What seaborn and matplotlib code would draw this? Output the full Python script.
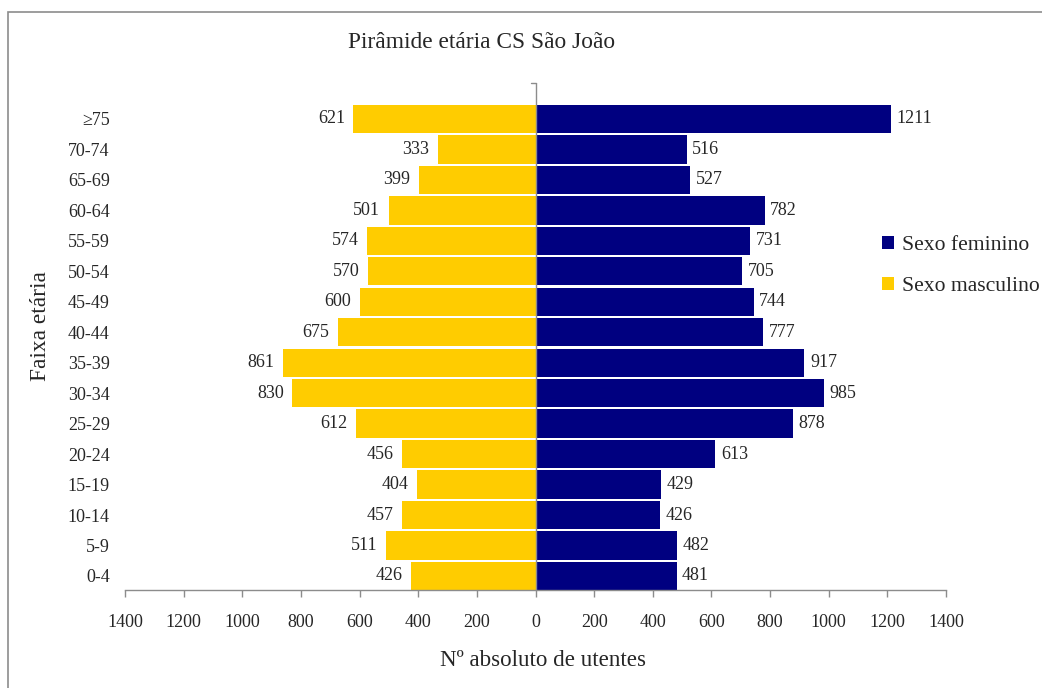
import numpy as np
import pandas as pd
import seaborn as sns
import matplotlib.pyplot as plt
from matplotlib.patches import Patch, Rectangle
from matplotlib.lines import Line2D
from matplotlib.ticker import FuncFormatter, MultipleLocator

# Age groups, oldest at the top
age_groups = ["≥75", "70-74", "65-69", "60-64", "55-59", "50-54", "45-49", "40-44",
              "35-39", "30-34", "25-29", "20-24", "15-19", "10-14", "5-9", "0-4"]
male = [621, 333, 399, 501, 574, 570, 600, 675, 861, 830, 612, 456, 404, 457, 511, 426]
female = [1211, 516, 527, 782, 731, 705, 744, 777, 917, 985, 878, 613, 429, 426, 482, 481]

title = "Pirâmide etária CS São João"
x_label = "Nº absoluto de utentes"
y_label = "Faixa etária"
female_name = "Sexo feminino"
male_name = "Sexo masculino"

sns.set_theme(style="white")
plt.rcParams["font.family"] = ["Liberation Serif", "DejaVu Serif"]

YELLOW = "#FFCC00"
NAVY = "#000080"
GRAY = "#8c8c8c"

df = pd.DataFrame({"age": age_groups, "male": -np.array(male), "female": female})

fig = plt.figure(figsize=(10.42, 6.88), dpi=100)
ax = fig.add_axes([125 / 1042, 1 - 590 / 688, (946 - 125) / 1042, (590 - 83) / 688])

sns.barplot(data=df, x="male", y="age", order=age_groups, color=YELLOW,
            width=0.93, saturation=1, ax=ax, linewidth=0)
sns.barplot(data=df, x="female", y="age", order=age_groups, color=NAVY,
            width=0.93, saturation=1, ax=ax, linewidth=0)

male_bars = ax.containers[0]
female_bars = ax.containers[1]
ax.bar_label(male_bars, labels=[str(v) for v in male], padding=6, fontsize=13)
ax.bar_label(female_bars, labels=[str(v) for v in female], padding=4, fontsize=13)

ax.set_xlim(-1400, 1400)
ax.set_ylim(len(age_groups) - 1 + 0.46, -1.18)
ax.xaxis.set_major_locator(MultipleLocator(200))
ax.xaxis.set_major_formatter(FuncFormatter(lambda v, p: f"{abs(int(round(v)))}"))

for side in ["top", "right", "left"]:
    ax.spines[side].set_visible(False)
ax.spines["bottom"].set_color(GRAY)
ax.spines["bottom"].set_linewidth(1)
ax.tick_params(axis="x", direction="out", length=5, width=1, color=GRAY,
               pad=12, labelsize=13, bottom=True)
ax.tick_params(axis="y", length=0, pad=11, labelsize=13)
for lbl in ax.get_yticklabels():
    lbl.set_horizontalalignment("right")

# vertical category axis at zero with its top tick
ax.axvline(0, color=GRAY, lw=1, zorder=3)
ax.add_line(Line2D([-14, 0], [-1.18, -1.18], color=GRAY, lw=1, clip_on=False,
                   transform=ax.transData))

ax.set_xlabel(x_label, fontsize=16.6)
ax.xaxis.set_label_coords((543 - 125) / (946 - 125), -(660 - 590) / (590 - 83))
ax.set_ylabel(y_label, fontsize=16.8)
ax.yaxis.set_label_coords(-(125 - 41) / (946 - 125), (590 - 326) / (590 - 83))
ax.yaxis.label.set_verticalalignment("center")
ax.xaxis.label.set_verticalalignment("center")

fig.text(482 / 1042, 1 - 42 / 688, title, ha="center", va="center", fontsize=16.8)

handles = [Patch(facecolor=NAVY, edgecolor="none", label=female_name),
           Patch(facecolor=YELLOW, edgecolor="none", label=male_name)]
fig.legend(handles=handles, loc="upper left", bbox_to_anchor=(882 / 1042, 1 - 236 / 688),
           frameon=False, fontsize=15.6, handlelength=0.56, handleheight=0.56,
           handletextpad=0.38, labelspacing=1.0, borderpad=0, borderaxespad=0)

# outer chart frame
fig.patches.append(Rectangle((8 / 1042, -0.05), 1.1, 1 - 12 / 688 + 0.05,
                             transform=fig.transFigure, fill=False,
                             edgecolor=GRAY, lw=1.2))

fig.savefig("out.png", dpi=100)
